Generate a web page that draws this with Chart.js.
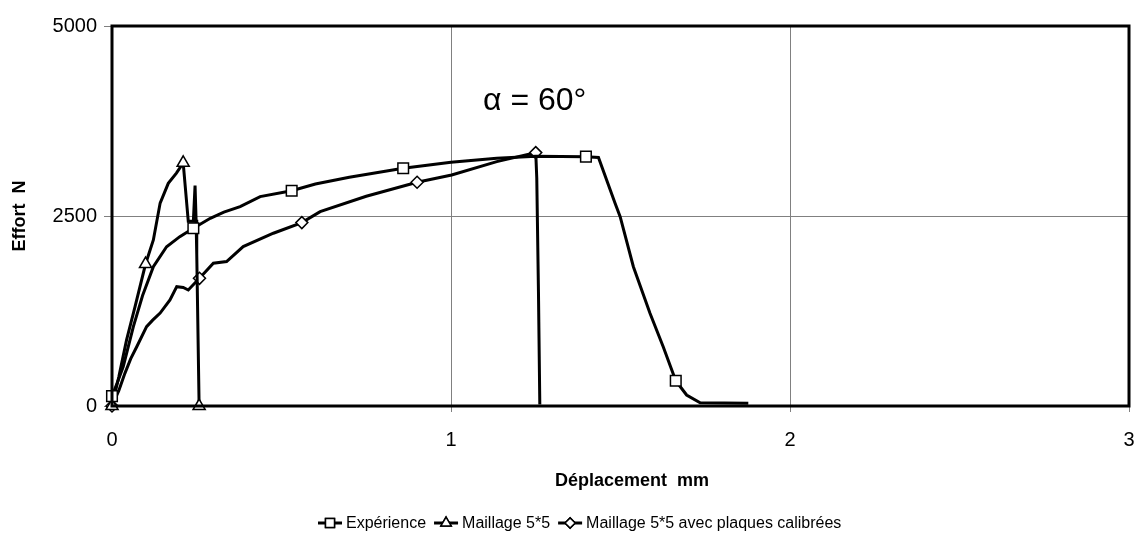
<!DOCTYPE html>
<html>
<head>
<meta charset="utf-8">
<script src="https://cdn.jsdelivr.net/npm/chart.js@4/dist/chart.umd.min.js"></script>
<style>
  html, body { margin: 0; padding: 0; background: #fff; }
  #wrap { width: 1138px; height: 552px; }
</style>
</head>
<body>
<div id="wrap"><canvas id="chart" width="1138" height="552"></canvas></div>
<script>
// Expérience
const expX = [0, 0.015, 0.033, 0.063, 0.09, 0.122, 0.161, 0.2, 0.24, 0.29, 0.33, 0.378, 0.437, 0.53, 0.6, 0.7, 0.859, 1.0, 1.135, 1.25, 1.398, 1.435, 1.484, 1.499, 1.538, 1.587, 1.626, 1.663, 1.695, 1.735, 1.877];
const expY = [130, 300, 517, 1044, 1450, 1833, 2096, 2228, 2338, 2470, 2550, 2623, 2755, 2833, 2920, 3010, 3128, 3207, 3260, 3285, 3281, 3270, 2667, 2491, 1833, 1220, 780, 333, 145, 43, 35];
const expMarks = [0, 8, 13, 16, 20, 27];

// Maillage 5*5
const mailX = [0, 0.02, 0.043, 0.068, 0.099, 0.122, 0.142, 0.166, 0.19, 0.21, 0.225, 0.24, 0.245, 0.248, 0.25, 0.257];
const mailY = [0, 380, 870, 1307, 1868, 2185, 2670, 2930, 3065, 3200, 2430, 2430, 2900, 2450, 2000, 0];
const mailMarks = [0, 4, 9, 15];

// Maillage 5*5 avec plaques calibrées
const calX = [0, 0.02, 0.038, 0.055, 0.073, 0.102, 0.12, 0.142, 0.171, 0.191, 0.21, 0.225, 0.258, 0.299, 0.338, 0.387, 0.476, 0.56, 0.614, 0.75, 0.9, 1.002, 1.135, 1.25, 1.253, 1.258, 1.262];
const calY = [0, 200, 430, 620, 780, 1044, 1130, 1223, 1395, 1570, 1560, 1526, 1680, 1878, 1900, 2097, 2273, 2413, 2557, 2760, 2944, 3040, 3216, 3334, 3000, 1500, 20];
const calMarks = [0, 12, 17, 20, 23];

const seriesNames = ['Expérience', 'Maillage 5*5', 'Maillage 5*5 avec plaques calibrées'];
const xTicks = [0, 1, 2, 3];
const yTicks = [0, 2500, 5000];
const xTitle = 'Déplacement  mm';
const yTitle = 'Effort  N';
const note = 'α = 60°';

const FONT = '"Liberation Sans", Arial, sans-serif';
const styles = [
  { pointStyle: 'rect', radius: 7.5 },
  { pointStyle: 'triangle', radius: 7 },
  { pointStyle: 'rectRot', radius: 6 }
];

function toPoints(xs, ys) {
  return xs.map((x, i) => ({ x, y: ys[i] }));
}

function makeSet(label, xs, ys, marks, st) {
  return {
    label,
    data: toPoints(xs, ys),
    borderColor: '#000',
    borderWidth: 3,
    backgroundColor: '#fff',
    tension: 0,
    pointStyle: st.pointStyle,
    pointRadius: ctx => marks.includes(ctx.dataIndex) ? st.radius : 0,
    pointBorderWidth: 1.5,
    pointBorderColor: '#000',
    pointBackgroundColor: '#fff',
    clip: 8
  };
}

// frame, axis titles, note and legend
const decor = {
  id: 'decor',
  afterDatasetsDraw(chart) {
    const { ctx, chartArea: a } = chart;
    ctx.save();
    ctx.strokeStyle = '#000';
    ctx.lineWidth = 3;
    ctx.strokeRect(a.left, a.top, a.right - a.left, a.bottom - a.top);

    ctx.fillStyle = '#000';
    ctx.font = '32px ' + FONT;
    ctx.textAlign = 'left';
    ctx.textBaseline = 'middle';
    ctx.fillText(note, 483, 101);

    ctx.font = 'bold 18px ' + FONT;
    ctx.textAlign = 'center';
    ctx.fillText(xTitle, 632, 481);
    ctx.save();
    ctx.translate(20, 216);
    ctx.rotate(-Math.PI / 2);
    ctx.fillText(yTitle, 0, 0);
    ctx.restore();

    // legend
    ctx.font = '16px ' + FONT;
    ctx.textAlign = 'left';
    let x = 318;
    const y = 523;
    chart.data.datasets.forEach((ds, i) => {
      ctx.strokeStyle = '#000';
      ctx.lineWidth = 3;
      ctx.beginPath();
      ctx.moveTo(x, y);
      ctx.lineTo(x + 24, y);
      ctx.stroke();
      ctx.lineWidth = 1.5;
      ctx.fillStyle = '#fff';
      Chart.helpers.drawPoint(ctx, { pointStyle: styles[i].pointStyle, radius: styles[i].radius * 0.85, rotation: 0, borderWidth: 1.5 }, x + 12, y);
      ctx.fill();
      ctx.stroke();
      ctx.fillStyle = '#000';
      ctx.fillText(seriesNames[i], x + 28, y + 1);
      x += 28 + ctx.measureText(seriesNames[i]).width + 8;
    });
    ctx.restore();
  }
};

new Chart(document.getElementById('chart'), {
  type: 'line',
  data: {
    datasets: [
      makeSet(seriesNames[0], expX, expY, expMarks, styles[0]),
      makeSet(seriesNames[1], mailX, mailY, mailMarks, styles[1]),
      makeSet(seriesNames[2], calX, calY, calMarks, styles[2])
    ]
  },
  options: {
    responsive: false,
    animation: false,
    layout: { padding: { left: 0, top: 26, right: 9, bottom: 0 } },
    plugins: { legend: { display: false }, tooltip: { enabled: false } },
    scales: {
      x: {
        type: 'linear',
        min: 0, max: 3,
        afterFit: s => { s.height = 146; s.paddingLeft = 0; s.paddingRight = 0; },
        afterBuildTicks: s => { s.ticks = xTicks.map(v => ({ value: v })); },
        border: { display: false },
        grid: { color: '#808080', lineWidth: 1, tickLength: 6, tickColor: '#808080' },
        ticks: { color: '#000', font: { family: FONT, size: 20 }, padding: 16, maxRotation: 0, callback: v => String(v) }
      },
      y: {
        min: 0, max: 5000,
        afterFit: s => { s.width = 112; s.paddingTop = 0; s.paddingBottom = 0; },
        afterBuildTicks: s => { s.ticks = yTicks.map(v => ({ value: v })); },
        border: { display: false },
        grid: { color: '#808080', lineWidth: 1, tickLength: 8, tickColor: '#808080' },
        ticks: { color: '#000', font: { family: FONT, size: 20 }, padding: 7, callback: v => String(v) }
      }
    }
  },
  plugins: [decor]
});
</script>
</body>
</html>
